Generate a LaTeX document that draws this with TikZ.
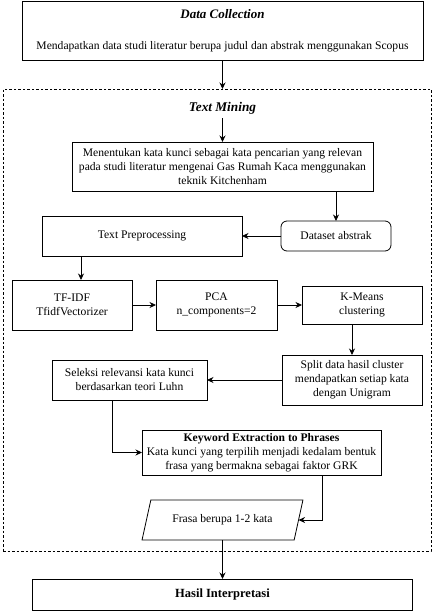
\documentclass[tikz,border=0pt]{standalone}
\usepackage{fontspec}
\setmainfont{Liberation Serif}
\usetikzlibrary{shapes,shapes.geometric,arrows,fit,calc,positioning,arrows.meta}

\begin{document}
\begin{tikzpicture}[
    x=1pt,y=1pt,line width=0.8pt,
    >={Stealth[length=6.5pt,width=6pt]},
    box/.style={rectangle,draw,align=center,inner sep=1pt,outer sep=0pt,font=\fontsize{11.6}{14}\selectfont},
    frame/.style={rectangle,draw,dash pattern=on 2.5pt off 2pt,line width=0.7pt,outer sep=0pt},
    io/.style={trapezium,draw,trapezium left angle=63.4,trapezium right angle=116.6,trapezium stretches=true,align=center,inner sep=1pt,outer sep=0pt,font=\fontsize{11.6}{14}\selectfont}]
    \useasboundingbox (0,0) rectangle (433,-611);
    \node[box,minimum width=401pt,minimum height=59pt] (DC) at (222.5,-30.5) {{\fontsize{13}{14}\selectfont\textbf{\textit{Data Collection}}}\\[17pt]Mendapatkan data studi literatur berupa judul dan abstrak menggunakan Scopus};
    \node[frame,minimum width=428pt,minimum height=462pt] (TM) [below=29pt of DC,xshift=-5.5pt] {};
    \node[box,draw=none,minimum height=20pt,font=\fontsize{13.3}{14}\selectfont] (TMlabel) [below=38pt of DC] {\textbf{\textit{Text Mining}}};
    \node[box,minimum width=301pt,minimum height=49pt] (search) [below=24pt of TMlabel] {Menentukan kata kunci sebagai kata pencarian yang relevan\\pada studi literatur mengenai Gas Rumah Kaca menggunakan\\teknik Kitchenham};
    \node[box,rounded corners=6pt,minimum width=110pt,minimum height=30pt] (dataset) [below=30pt of search,xshift=113.5pt] {Dataset abstrak};
    \node[box,minimum width=200pt,minimum height=40pt] (prepro) [left=39pt of dataset] {Text Preprocessing};
    \node[box,minimum width=120pt,minimum height=50pt] (tfidf) [below=24pt of prepro,xshift=-70pt] {TF-IDF\\TfidfVectorizer};
    \node[box,minimum width=121pt,minimum height=50pt] (pca) [right=24pt of tfidf] {PCA\\n\_components=2};
    \node[box,minimum width=120pt,minimum height=38pt] (kmeans) [right=25pt of pca] {K-Means\\clustering};
    \node[box,minimum width=140pt,minimum height=50pt] (split) [below=31pt of kmeans,xshift=-10pt] {Split data hasil cluster\\mendapatkan setiap kata\\dengan Unigram};
    \node[box,minimum width=155pt,minimum height=40pt] (luhn) [left=75pt of split] {Seleksi relevansi kata kunci\\berdasarkan teori Luhn};
    \node[box,minimum width=239pt,minimum height=45pt] (phrase) [below=30pt of luhn,xshift=132pt] {\textbf{Keyword Extraction to Phrases}\\Kata kunci yang terpilih menjadi kedalam bentuk\\frasa yang bermakna sebagai faktor GRK};
    \node[io,minimum width=161pt,minimum height=40pt] (frasa) [below=25pt of phrase,xshift=-39pt] {Frasa berupa 1-2 kata};
    \node[box,minimum width=380pt,minimum height=31pt,font=\fontsize{12.5}{14}\selectfont] (hasil) [below=39pt of frasa] {\textbf{Hasil Interpretasi}};

    \coordinate (tfin) at ([xshift=9pt]tfidf.north);
    \coordinate (luhnout) at ([xshift=-17.5pt]luhn.south);
    \coordinate (phraseout) at ([xshift=60.5pt]phrase.south);

    \draw[->] (DC.south) -- (DC.south |- TM.north);
    \draw[->] (TMlabel) -- (search);
    \draw[->] (search.south -| dataset.north) -- (dataset.north);
    \draw[->] (dataset) -- (prepro);
    \draw[->] (tfin |- prepro.south) -- (tfin);
    \draw[->] (tfidf) -- (pca);
    \draw[->] (pca) -- (kmeans);
    \draw[->] (kmeans.south -| split.north) -- (split.north);
    \draw[->] (split) -- (luhn);
    \draw[->] (luhnout) |- (phrase);
    \draw[->] (phraseout) |- (frasa);
    \draw[->] (frasa) -- (hasil);
\end{tikzpicture}
\end{document}
